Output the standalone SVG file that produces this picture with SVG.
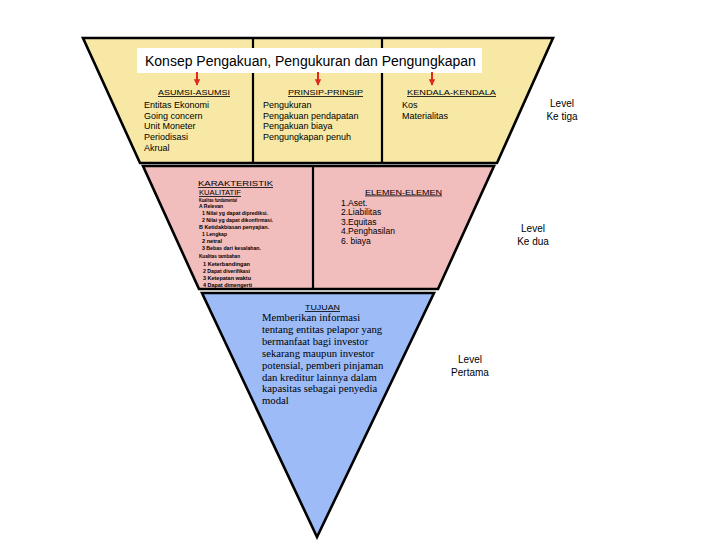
<svg xmlns="http://www.w3.org/2000/svg" width="720" height="540" viewBox="0 0 720 540">
<style>
.sh{stroke:#000;stroke-width:2.6;stroke-linejoin:miter}
.dv{stroke:#000;stroke-width:2.2}
.t{font-family:"Liberation Sans",Arial,sans-serif;fill:#000}
.it{font-size:9px}
.hd{font-size:8px;text-decoration:underline}
.sm{font-size:5px;font-weight:bold}
.lv{font-size:10px;text-anchor:middle}
.tm{font-family:"Liberation Serif","Times New Roman",serif;font-size:10.7px;fill:#000}
.ar{stroke:#e02a1a;stroke-width:2}
</style>
<defs>
<marker id="ah" viewBox="0 0 10 10" refX="9" refY="5" markerWidth="3.2" markerHeight="3.2" orient="auto" markerUnits="strokeWidth">
<path d="M0,0 L10,5 L0,10 z" fill="#e02a1a"/>
</marker>
</defs>
<rect width="720" height="540" fill="#fff"/>

<g id="level3">
<polygon class="sh" points="83,38 553,38 497,163 140,163" fill="#f7e8a5"/>
<line class="dv" x1="253" y1="38" x2="253" y2="163"/>
<line class="dv" x1="382" y1="38" x2="382" y2="163"/>
</g>

<g id="title">
<rect x="137" y="48" width="345" height="25" fill="#fff"/>
<text class="t" x="145" y="66" font-size="14">Konsep Pengakuan, Pengukuran dan Pengungkapan</text>
</g>

<g id="asumsi">
<text class="t hd" x="158" y="95" textLength="72" lengthAdjust="spacingAndGlyphs">ASUMSI-ASUMSI</text>
<text class="t it" x="144" y="108">Entitas Ekonomi</text>
<text class="t it" x="144" y="118.5">Going concern</text>
<text class="t it" x="144" y="129">Unit Moneter</text>
<text class="t it" x="144" y="140">Periodisasi</text>
<text class="t it" x="144" y="151">Akrual</text>
</g>

<g id="prinsip">
<text class="t hd" x="288" y="95" textLength="75" lengthAdjust="spacingAndGlyphs">PRINSIP-PRINSIP</text>
<text class="t it" x="263" y="108">Pengukuran</text>
<text class="t it" x="263" y="118.5">Pengakuan pendapatan</text>
<text class="t it" x="263" y="129">Pengakuan biaya</text>
<text class="t it" x="263" y="140">Pengungkapan  penuh</text>
</g>

<g id="kendala">
<text class="t hd" x="407" y="95" textLength="89" lengthAdjust="spacingAndGlyphs">KENDALA-KENDALA</text>
<text class="t it" x="402" y="107.5">Kos</text>
<text class="t it" x="402" y="118.5">Materialitas</text>
</g>

<g id="lbl3">
<text class="t lv" x="562" y="107">Level</text>
<text class="t lv" x="562" y="120">Ke tiga</text>
</g>

<g id="level2">
<polygon class="sh" points="143,166 494,166 438,289 199,289" fill="#f2bdbd"/>
<line class="dv" x1="313" y1="166" x2="313" y2="289"/>
</g>

<g id="karakteristik">
<text class="t hd" x="198" y="186" font-size="8.5" textLength="75" lengthAdjust="spacingAndGlyphs">KARAKTERISTIK</text>
<text class="t hd" x="199" y="195" textLength="42" lengthAdjust="spacingAndGlyphs">KUALITATIF</text>
<text class="t sm" x="199" y="201.5" textLength="38" lengthAdjust="spacingAndGlyphs">Kualitas fundamental</text>
<text class="t sm" x="199" y="208" textLength="24" lengthAdjust="spacingAndGlyphs">A Relevan</text>
<text class="t sm" x="202" y="215" textLength="66" lengthAdjust="spacingAndGlyphs">1 Nilai yg dapat diprediksi.</text>
<text class="t sm" x="202" y="222" textLength="71" lengthAdjust="spacingAndGlyphs">2 Nilai yg dapat dikonfirmasi.</text>
<text class="t sm" x="199" y="229" textLength="70" lengthAdjust="spacingAndGlyphs">B Ketidakbiasan penyajian.</text>
<text class="t sm" x="202" y="235.5" textLength="25" lengthAdjust="spacingAndGlyphs">1 Lengkap</text>
<text class="t sm" x="202" y="243" textLength="20" lengthAdjust="spacingAndGlyphs">2 netral</text>
<text class="t sm" x="202" y="250" textLength="59" lengthAdjust="spacingAndGlyphs">3 Bebas dari kesalahan.</text>
<text class="t sm" x="199" y="258" textLength="41" lengthAdjust="spacingAndGlyphs">Kualitas tambahan</text>
<text class="t sm" x="203" y="266" textLength="47" lengthAdjust="spacingAndGlyphs">1 Keterbandingan</text>
<text class="t sm" x="203" y="273" textLength="47" lengthAdjust="spacingAndGlyphs">2 Dapat diverifikasi</text>
<text class="t sm" x="203" y="280" textLength="48" lengthAdjust="spacingAndGlyphs">3 Ketepatan waktu</text>
<text class="t sm" x="203" y="287" textLength="49" lengthAdjust="spacingAndGlyphs">4 Dapat dimengerti</text>
</g>

<g id="elemen">
<text class="t hd" x="365" y="194.5" textLength="77" lengthAdjust="spacingAndGlyphs">ELEMEN-ELEMEN</text>
<text class="t" font-size="8.5" x="341" y="206">1.Aset.</text>
<text class="t" font-size="8.5" x="341" y="215">2.Liabilitas</text>
<text class="t" font-size="8.5" x="341" y="225">3.Equitas</text>
<text class="t" font-size="8.5" x="341" y="234">4.Penghasilan</text>
<text class="t" font-size="8.5" x="341" y="244">6. biaya</text>
</g>

<g id="lbl2">
<text class="t lv" x="533" y="232">Level</text>
<text class="t lv" x="533" y="245">Ke dua</text>
</g>

<g id="level1">
<polygon class="sh" points="202,293 434,293 317,537" fill="#9cbbf7"/>
</g>

<g id="tujuan">
<text class="t hd" x="305" y="310" textLength="35" lengthAdjust="spacingAndGlyphs">TUJUAN</text>
<text class="tm" x="262" y="321">Memberikan informasi</text>
<text class="tm" x="262" y="333">tentang entitas pelapor yang</text>
<text class="tm" x="262" y="345">bermanfaat bagi investor</text>
<text class="tm" x="262" y="356.5">sekarang maupun investor</text>
<text class="tm" x="262" y="368.5">potensial, pemberi pinjaman</text>
<text class="tm" x="262" y="380.5">dan kreditur lainnya dalam</text>
<text class="tm" x="262" y="392">kapasitas sebagai penyedia</text>
<text class="tm" x="262" y="404">modal</text>
</g>

<g id="lbl1">
<text class="t lv" x="470" y="363">Level</text>
<text class="t lv" x="470" y="376">Pertama</text>
</g>

<g id="connectors">
<line class="ar" x1="197" y1="72" x2="197" y2="85" marker-end="url(#ah)"/>
<line class="ar" x1="318" y1="72" x2="318" y2="85" marker-end="url(#ah)"/>
<line class="ar" x1="432" y1="72" x2="432" y2="85" marker-end="url(#ah)"/>
</g>
</svg>
